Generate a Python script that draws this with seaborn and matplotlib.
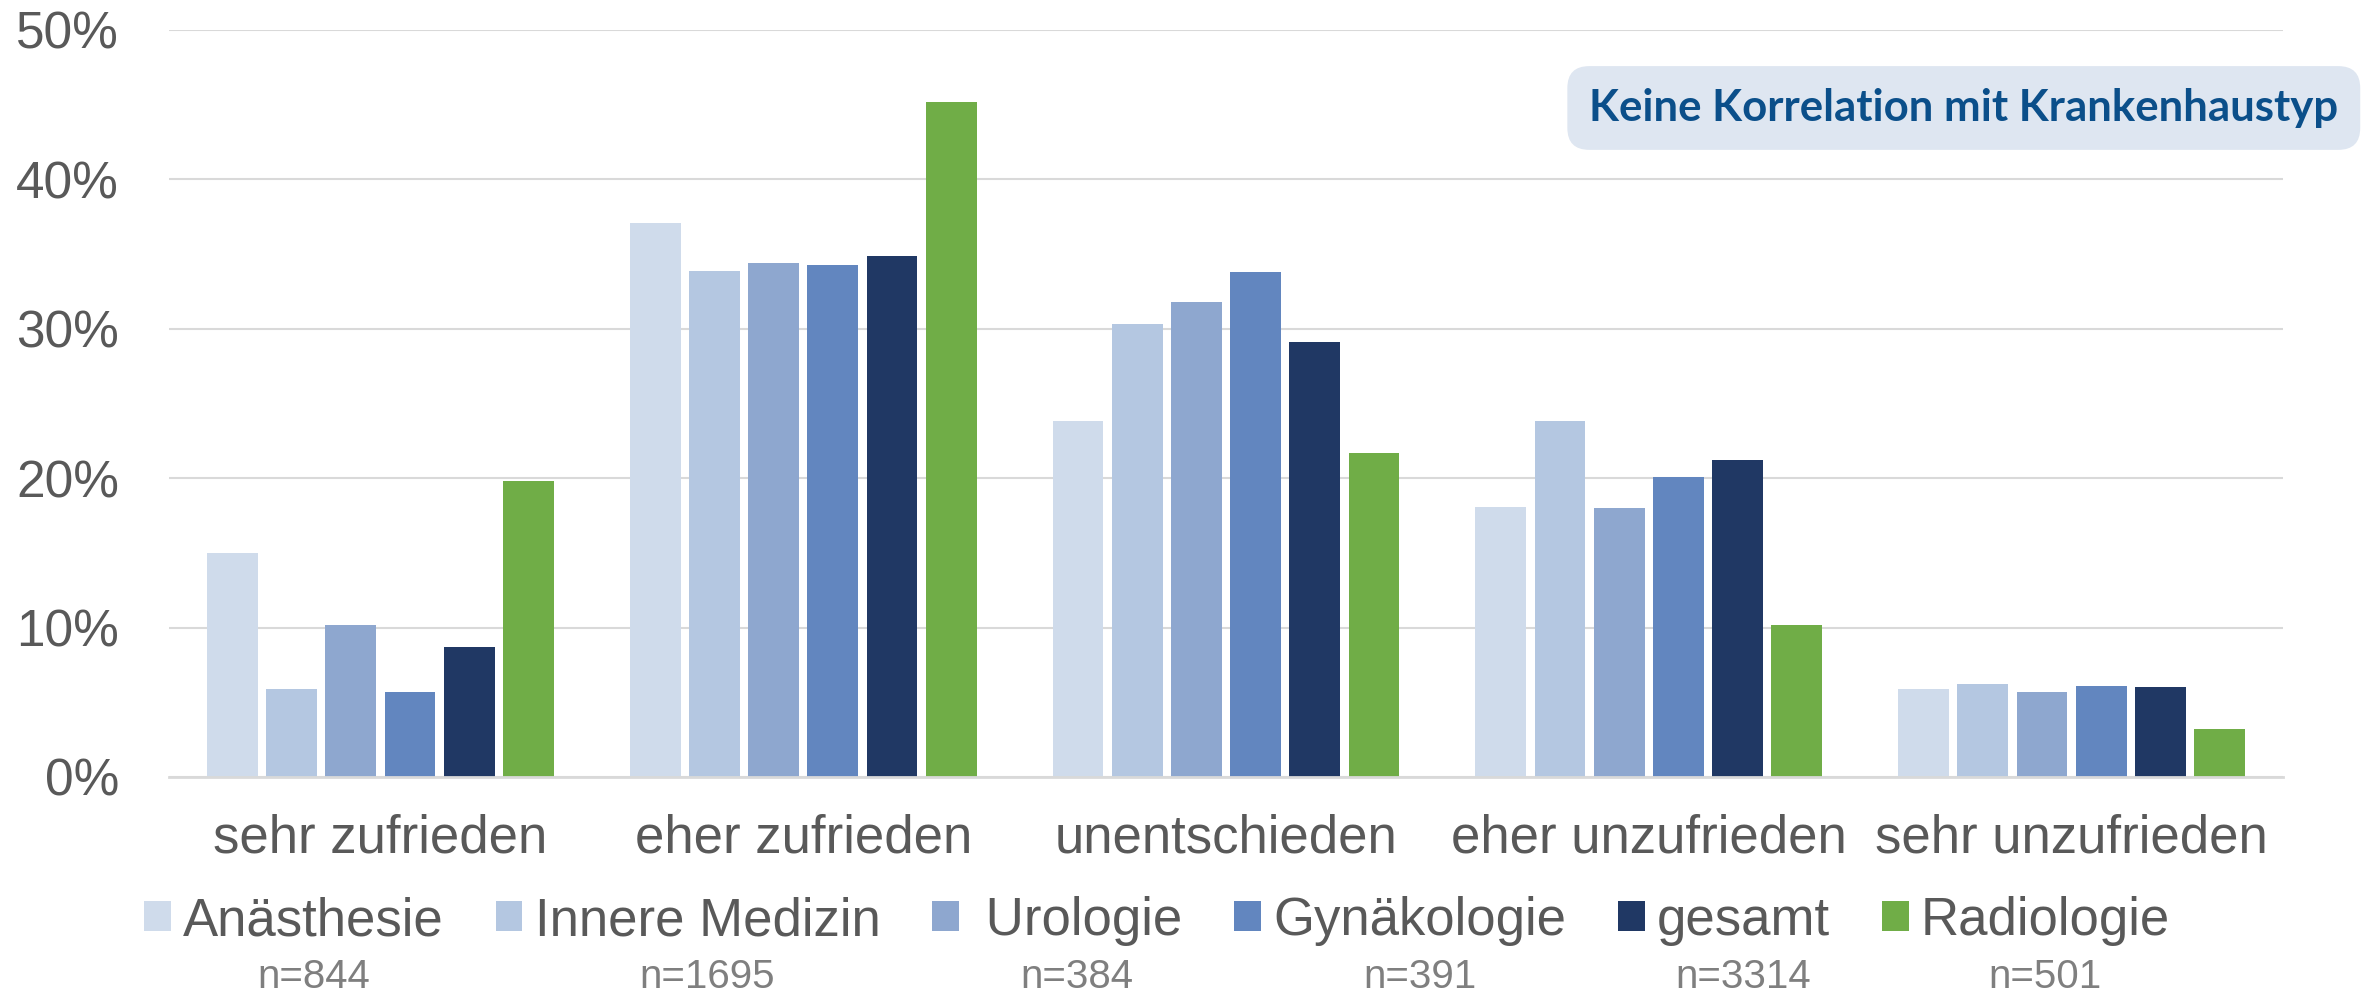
import pandas as pd
import seaborn as sns
import matplotlib.pyplot as plt
from matplotlib.ticker import PercentFormatter

# Daten
antworten = ['sehr zufrieden', 'eher zufrieden', 'unentschieden',
             'eher unzufrieden', 'sehr unzufrieden']
gruppen = ['Anästhesie', 'Innere Medizin', ' Urologie', 'Gynäkologie', 'gesamt', 'Radiologie']
n_werte = ['n=844', 'n=1695', 'n=384', 'n=391', 'n=3314', 'n=501']

anaesthesie = [15.0, 37.1, 23.8, 18.1, 5.9]
innere = [5.9, 33.9, 30.3, 23.8, 6.2]
urologie = [10.2, 34.4, 31.8, 18.0, 5.7]
gynaekologie = [5.7, 34.3, 33.8, 20.1, 6.1]
gesamt = [8.7, 34.9, 29.1, 21.2, 6.0]
radiologie = [19.8, 45.2, 21.7, 10.2, 3.2]

farben = ['#CFDBEB', '#B4C7E1', '#8EA7CF', '#6286BF', '#203864', '#70AD47']

werte = [anaesthesie, innere, urologie, gynaekologie, gesamt, radiologie]
rows = []
for g, vals in zip(gruppen, werte):
    for a, v in zip(antworten, vals):
        rows.append({'Antwort': a, 'Gruppe': g, 'Anteil': v})
df = pd.DataFrame(rows)

sns.set_style('white')
plt.rcParams['font.family'] = ['Liberation Sans', 'DejaVu Sans']

W, H = 2371, 997
fig = plt.figure(figsize=(W / 100, H / 100), dpi=100)
ax = fig.add_axes([169 / W, 1 - 777 / H, (2283 - 169) / W, (777 - 30) / H])

sns.barplot(data=df, x='Antwort', y='Anteil', hue='Gruppe', palette=farben,
            width=0.84, gap=0.14, linewidth=0, saturation=1, ax=ax, legend=True)

ax.set_ylim(0, 50)
ax.set_yticks(range(0, 51, 10))
ax.yaxis.set_major_formatter(PercentFormatter(decimals=0))
ax.grid(axis='y', color='#D9D9D9', linewidth=1.5)
ax.set_axisbelow(True)
for s in ['top', 'right', 'left']:
    ax.spines[s].set_visible(False)
ax.spines['bottom'].set_color('#D9D9D9')
ax.spines['bottom'].set_linewidth(2)
ax.tick_params(axis='y', length=0, pad=36, labelsize=37, labelcolor='#595959')
ax.tick_params(axis='x', length=0, pad=26, labelsize=38, labelcolor='#595959')
ax.set_xlabel('')
ax.set_ylabel('')

# Hinweisbox
ax.text(0.849, 0.8956, 'Keine Korrelation mit Krankenhaustyp', transform=ax.transAxes,
        ha='center', va='center', fontsize=31.5, fontweight='bold', color='#0B4F8A',
        family=['Lato', 'DejaVu Sans'], clip_on=False,
        bbox=dict(boxstyle='round,pad=0.5,rounding_size=0.5', fc='#DEE6F1', ec='none'))

# Legende
ax.get_legend().remove()
handles, labels = ax.get_legend_handles_labels()
leg = fig.legend(handles, labels, loc='center', bbox_to_anchor=(0.488, 1 - 921 / H),
                 ncol=6, frameon=False, fontsize=38, handlelength=0.51, handleheight=0.51,
                 handletextpad=0.23, columnspacing=0.98, labelcolor='#595959',
                 borderaxespad=0, borderpad=0)

# n-Angaben unter den Legendeneinträgen
fig.canvas.draw()
r = fig.canvas.get_renderer()
for t, n in zip(leg.get_texts(), n_werte):
    tb = t.get_window_extent(r)
    xc = (tb.x0 + tb.x1) / 2
    fig.text(xc / W, 1 - 977 / H, n, ha='center', va='center', fontsize=29, color='#7F7F7F')

fig.savefig('out.png', dpi=100)
